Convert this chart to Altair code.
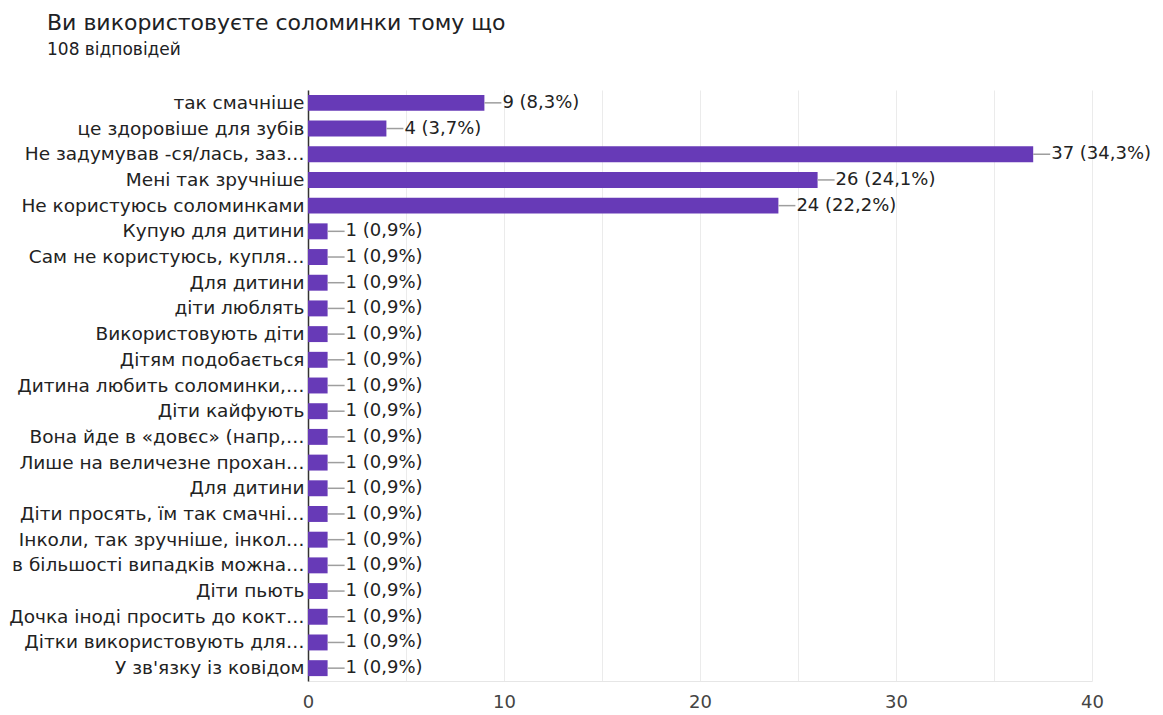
import altair as alt
import pandas as pd

labels = [
    "так смачніше",
    "це здоровіше для зубів",
    "Не задумував -ся/лась, заз…",
    "Мені так зручніше",
    "Не користуюсь соломинками",
    "Купую для дитини",
    "Сам не користуюсь, купля…",
    "Для дитини",
    "діти люблять",
    "Використовують діти",
    "Дітям подобається",
    "Дитина любить соломинки,…",
    "Діти кайфують",
    "Вона йде в «довєс» (напр,…",
    "Лише на величезне прохан…",
    "Для дитини",
    "Діти просять, їм так смачні…",
    "Інколи, так зручніше, інкол…",
    "в більшості випадків можна…",
    "Діти пьють",
    "Дочка іноді просить до кокт…",
    "Дітки використовують для…",
    "У зв'язку із ковідом",
]
counts = [9, 4, 37, 26, 24] + [1] * 18
percents = ["8,3%", "3,7%", "34,3%", "24,1%", "22,2%"] + ["0,9%"] * 18
x_ticks = [0, 10, 20, 30, 40]

df = pd.DataFrame({
    "idx": list(range(len(labels))),
    "count": counts,
    "text": [f"{c} ({p})" for c, p in zip(counts, percents)],
})

label_array = "[" + ",".join('"' + l.replace('"', '\\"') + '"' for l in labels) + "]"
tick_array = "[" + ",".join(str(t) for t in x_ticks) + "]"

FONT = "DejaVu Sans"

y_enc = alt.Y(
    "idx:O",
    scale=alt.Scale(paddingInner=0.38, paddingOuter=0.19),
    axis=alt.Axis(
        title=None,
        labelExpr=f"{label_array}[datum.value]",
        labelFont=FONT,
        labelFontSize=18.5,
        labelColor="#222222",
        labelPadding=4,
        labelLimit=400,
        ticks=False,
        domainColor="#333333",
        domainWidth=1.5,
        grid=False,
    ),
)

x_enc = alt.X(
    "count:Q",
    scale=alt.Scale(domain=[0, 40], nice=False),
    axis=alt.Axis(
        title=None,
        values=list(range(0, 45, 5)),
        labelExpr=f"indexof({tick_array}, datum.value) >= 0 ? datum.label : ''",
        labelFont=FONT,
        labelFontSize=18,
        labelColor="#444444",
        labelPadding=12,
        labelFlush=False,
        labelOverlap=False,
        ticks=False,
        domain=True,
        domainColor="#e6e6e6",
        domainWidth=1,
        grid=True,
        gridColor="#ebebeb",
        gridWidth=1,
    ),
)

base = alt.Chart(df)

bars = base.mark_bar(color="#673ab7").encode(x=x_enc, y=y_enc)

connectors = base.mark_rule(color="#9e9e9e", strokeWidth=1.5, x2Offset=17).encode(
    x="count:Q", x2="count:Q", y=alt.Y("idx:O")
)

texts = base.mark_text(
    align="left", baseline="middle", dx=18, font=FONT, fontSize=18, color="#222222"
).encode(x="count:Q", y=alt.Y("idx:O"), text="text:N")

chart = (
    alt.layer(bars, connectors, texts)
    .properties(
        width=784,
        height=591,
        autosize=alt.AutoSizeParams(type="none"),
        padding={"left": 300, "top": 82, "right": 63, "bottom": 33},
        title=alt.TitleParams(
            text="Ви використовуєте соломинки тому що",
            subtitle="108 відповідей",
            anchor="start",
            frame="group",
            dx=-261,
            offset=31,
            font=FONT,
            fontSize=22,
            fontWeight="normal",
            color="#202124",
            subtitleFont=FONT,
            subtitleFontSize=17,
            subtitleColor="#202124",
            subtitlePadding=7,
        ),
    )
    .configure_view(stroke=None)
)

chart.save("out.html", embed_options={"renderer": "svg", "actions": False})
